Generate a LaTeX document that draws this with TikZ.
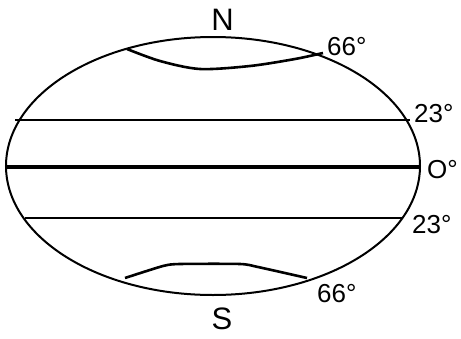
\documentclass[tikz,border=0pt]{standalone}
\usepackage{fontspec}
\setmainfont{Liberation Sans}
\begin{document}
\begin{tikzpicture}[x=1pt,y=-1pt,
  lbl/.style={inner sep=0pt,anchor=base west,font=\fontsize{26}{26}\selectfont},
  pole/.style={inner sep=0pt,anchor=base,font=\fontsize{31}{31}\selectfont},
  globe/.style={line width=2pt},
  lat/.style={line width=1.8pt},
  equ/.style={line width=4.5pt},
  polecap/.style={line width=2.6pt,line join=round}]
\useasboundingbox (0,0) rectangle (461,338);
\draw[globe] (213,166) ellipse [x radius=207, y radius=129];
\draw[equ] (6,167) -- (420,167);
\draw[lat] (15,120) -- (410,120);
\draw[lat] (25,218) -- (403,218);
\draw[polecap] plot[smooth,tension=0.5] coordinates {(127,49) (160,61) (200,69) (250,66) (295,59) (323,53)};
\draw[polecap] plot[smooth,tension=0.4] coordinates {(125,278) (163,266) (180,264) (240,264) (258,267) (307,278)};
\node[pole] (n) at (222.5,30) {N};
\node[pole] (s) at (222,329.5) {S};
\node[lbl] (a1) at (327,55) {66°};
\node[lbl] (a2) at (414,122) {23°};
\node[lbl] (a3) at (427,178) {O°};
\node[lbl] (a4) at (412,233) {23°};
\node[lbl] (a5) at (317,302) {66°};
\end{tikzpicture}
\end{document}
